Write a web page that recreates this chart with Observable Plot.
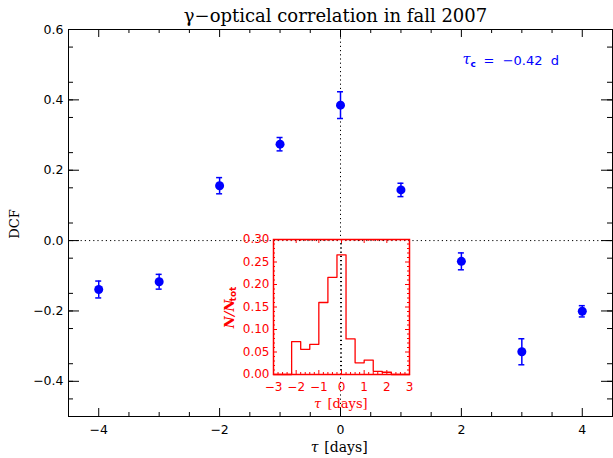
<!DOCTYPE html>
<html><head><meta charset="utf-8">
<script src="https://cdn.jsdelivr.net/npm/d3@7"></script>
<script src="https://cdn.jsdelivr.net/npm/@observablehq/plot@0.6"></script>
<style>
body{margin:0;background:#fff}
#wrap{position:relative;width:613px;height:458px}
#inset{position:absolute;left:218px;top:234px}
</style></head><body><div id="wrap"><div id="main"></div><div id="inset"></div></div>
<script>
// main DCF data
const tau = [-4, -3, -2, -1, 0, 1, 2, 3, 4];
const dcf = [-0.139, -0.117, 0.156, 0.274, 0.385, 0.144, -0.059, -0.316, -0.201];
const dcfErr = [0.024, 0.021, 0.023, 0.019, 0.038, 0.019, 0.024, 0.037, 0.016];
const xTicks = [-4, -2, 0, 2, 4];
const yTicks = [-0.4, -0.2, 0.0, 0.2, 0.4, 0.6];
// inset histogram of centroid lags
const histLeftEdges = [-2.2, -1.8, -1.4, -1.0, -0.6, -0.2, 0.2, 0.6, 1.0, 1.4, 1.8];
const histFrac = [0.073, 0.056, 0.067, 0.160, 0.216, 0.266, 0.079, 0.026, 0.032, 0.007, 0.005];
const histBinWidth = 0.4;
const insetXTicks = [-3, -2, -1, 0, 1, 2, 3];
const insetYTicks = [0, 0.05, 0.10, 0.15, 0.20, 0.25, 0.30];
const titleText = "γ−optical correlation in fall 2007";
const tauC = "=\u00a0\u00a0−0.42\u00a0\u00a0d";

const BLUE = "#0000ff", RED = "#ff0000";
const W = 613, H = 458, mL = 68, mR = 1, mT = 29, mB = 42;
const pW = W - mL - mR, pH = H - mT - mB;
const sans = "DejaVu Sans", serif = "DejaVu Serif";

const pts = tau.map((t, i) => ({tau: t, dcf: dcf[i], err: dcfErr[i]}));
const xMinor = d3.range(-9, 10).filter(k => k % 4 !== 0).map(k => k * 0.5);
const xMajor = d3.range(-8, 9, 4).map(k => k * 0.5);
const yMinor = d3.range(-10, 13).filter(k => k % 4 !== 2 && k % 4 !== -2).map(k => k * 0.05);
const yMajor = yTicks;
const T = {textAnchor: "middle", lineAnchor: "middle"};

const main = Plot.plot({
  width: W, height: H,
  marginLeft: mL, marginRight: mR, marginTop: mT, marginBottom: mB,
  x: {domain: [-4.5, 4.5]},
  y: {domain: [-0.5, 0.6]},
  style: {background: "white", color: "black", fontFamily: sans},
  marks: [
    Plot.ruleY([0], {stroke: "black", strokeDasharray: "1.2,3"}),
    Plot.ruleX([0], {stroke: "black", strokeDasharray: "1.2,3"}),
    // ticks inside on all four sides
    Plot.tickX(xMajor, {x: d => d, insetTop: pH - 8}),
    Plot.tickX(xMajor, {x: d => d, insetBottom: pH - 8}),
    Plot.tickX(xMinor, {x: d => d, insetTop: pH - 4}),
    Plot.tickX(xMinor, {x: d => d, insetBottom: pH - 4}),
    Plot.tickY(yMajor, {y: d => d, insetRight: pW - 11}),
    Plot.tickY(yMajor, {y: d => d, insetLeft: pW - 11}),
    Plot.tickY(yMinor, {y: d => d, insetRight: pW - 5}),
    Plot.tickY(yMinor, {y: d => d, insetLeft: pW - 5}),
    Plot.frame({stroke: "black"}),
    Plot.axisX(xTicks, {tickSize: 0, tickPadding: 9, fontSize: 12.5, fontFamily: sans, tickFormat: d3.format("d"), label: null}),
    Plot.axisY(yTicks, {tickSize: 0, tickPadding: 5, fontSize: 12.5, fontFamily: sans, tickFormat: d3.format(".1f"), label: null}),
    // error bars and points
    Plot.ruleX(pts, {x: "tau", y1: d => d.dcf - d.err, y2: d => d.dcf + d.err, stroke: BLUE, strokeWidth: 1.5}),
    Plot.ruleY(pts, {y: d => d.dcf + d.err, x1: "tau", x2: "tau", insetLeft: -3, insetRight: -3, stroke: BLUE, strokeWidth: 1.5}),
    Plot.ruleY(pts, {y: d => d.dcf - d.err, x1: "tau", x2: "tau", insetLeft: -3, insetRight: -3, stroke: BLUE, strokeWidth: 1.5}),
    Plot.dot(pts, {x: "tau", y: "dcf", r: 4.5, fill: BLUE}),
    // texts
    Plot.text([titleText], {...T, text: d => d, frameAnchor: "top", dx: -5, dy: -13, fontSize: 18, fontFamily: serif, fill: "black"}),
    Plot.text(["DCF"], {...T, text: d => d, frameAnchor: "left", dx: -54, dy: 1, rotate: -90, fontSize: 13, fontFamily: serif, fill: "black"}),
    Plot.text(["τ"], {...T, text: d => d, frameAnchor: "bottom", dx: -26, dy: 31, fontSize: 14, fontFamily: serif, fontStyle: "italic", fill: "black"}),
    Plot.text(["[days]"], {...T, text: d => d, frameAnchor: "bottom", dx: 5.5, dy: 31, fontSize: 14, fontFamily: serif, fill: "black"}),
    Plot.text(["τ"], {...T, textAnchor: "start", text: d => d, frameAnchor: "top-right", dx: -150, dy: 30, fontSize: 14.5, fontFamily: serif, fontStyle: "italic", fill: BLUE}),
    Plot.text(["c"], {...T, textAnchor: "start", text: d => d, frameAnchor: "top-right", dx: -142, dy: 35, fontSize: 9, fontFamily: sans, fontWeight: "bold", fill: BLUE}),
    Plot.text([tauC], {...T, textAnchor: "start", text: d => d, frameAnchor: "top-right", dx: -129, dy: 31, fontSize: 13, fontFamily: sans, fill: BLUE})
  ]
});
document.getElementById("main").appendChild(main);

// inset
const iL = 55, iR = 12, iT = 5, iB = 40, iFW = 136, iFH = 135;
const iW = iL + iFW + iR, iH = iT + iFH + iB;
const histLine = [{x: -3, y: 0}]
  .concat(histLeftEdges.map((e, i) => ({x: e, y: histFrac[i]})))
  .concat([{x: histLeftEdges[histLeftEdges.length - 1] + histBinWidth, y: 0}, {x: 3, y: 0}]);
const ixMinor = d3.range(-30, 31, 2).filter(k => k % 10 !== 0).map(k => k / 10);
const iyMinor = d3.range(0, 31).filter(k => k % 5 !== 0).map(k => k / 100);

const inset = Plot.plot({
  width: iW, height: iH,
  marginLeft: iL, marginRight: iR, marginTop: iT, marginBottom: iB,
  x: {domain: [-3, 3]},
  y: {domain: [0, 0.3]},
  style: {background: "transparent", color: RED, fontFamily: sans, overflow: "visible"},
  marks: [
    Plot.ruleX([0], {stroke: "black", strokeDasharray: "1.2,3"}),
    Plot.tickX(insetXTicks, {x: d => d, insetTop: iFH - 4, stroke: RED}),
    Plot.tickX(insetXTicks, {x: d => d, insetBottom: iFH - 4, stroke: RED}),
    Plot.tickX(ixMinor, {x: d => d, insetTop: iFH - 2, stroke: RED}),
    Plot.tickX(ixMinor, {x: d => d, insetBottom: iFH - 2, stroke: RED}),
    Plot.tickY(insetYTicks, {y: d => d, insetRight: iFW - 4, stroke: RED}),
    Plot.tickY(insetYTicks, {y: d => d, insetLeft: iFW - 4, stroke: RED}),
    Plot.tickY(iyMinor, {y: d => d, insetRight: iFW - 2, stroke: RED}),
    Plot.tickY(iyMinor, {y: d => d, insetLeft: iFW - 2, stroke: RED}),
    Plot.line(histLine, {x: "x", y: "y", curve: "step-after", stroke: RED, strokeWidth: 1.3}),
    Plot.frame({stroke: RED, strokeWidth: 1.5}),
    Plot.axisX(insetXTicks, {tickSize: 0, tickPadding: 8, fontSize: 12, fontFamily: sans, tickFormat: d3.format("d"), label: null, color: RED}),
    Plot.axisY(insetYTicks, {tickSize: 0, tickPadding: 4, fontSize: 12, fontFamily: sans, tickFormat: d3.format(".2f"), label: null, color: RED}),
    Plot.text(["τ"], {...T, text: d => d, frameAnchor: "bottom", dx: -24, dy: 29, fontSize: 13, fontFamily: serif, fontStyle: "italic", fill: RED}),
    Plot.text(["[days]"], {...T, text: d => d, frameAnchor: "bottom", dx: 6, dy: 29, fontSize: 13, fontFamily: serif, fill: RED}),
    Plot.text(["N/N"], {...T, text: d => d, frameAnchor: "left", dx: -44, dy: 7, rotate: -90, fontSize: 13, fontFamily: serif, fontStyle: "italic", fontWeight: "bold", fill: RED}),
    Plot.text(["tot"], {...T, text: d => d, frameAnchor: "left", dx: -40, dy: -13, rotate: -90, fontSize: 9, fontFamily: sans, fontWeight: "bold", fill: RED})
  ]
});
document.getElementById("inset").appendChild(inset);
</script></body></html>
